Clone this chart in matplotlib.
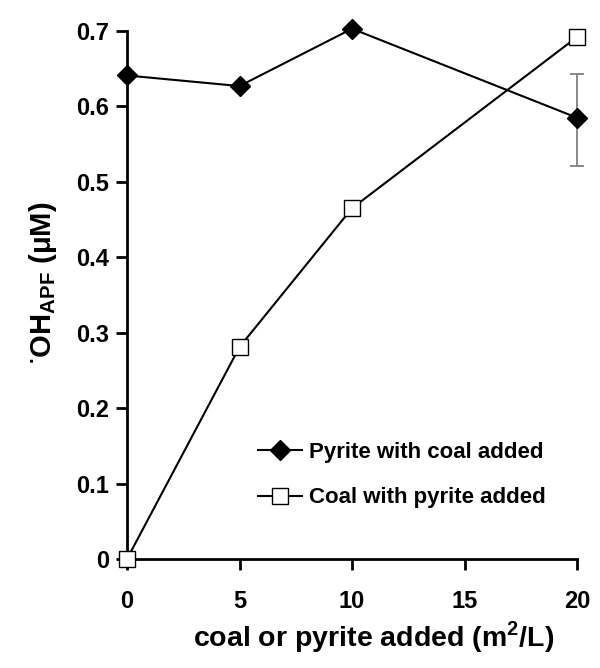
import matplotlib.pyplot as plt

plt.rcParams['font.family'] = 'Liberation Sans'
plt.rcParams['font.weight'] = 'bold'
plt.rcParams['mathtext.fontset'] = 'custom'
plt.rcParams['mathtext.rm'] = 'Liberation Sans:bold'
plt.rcParams['mathtext.bf'] = 'Liberation Sans:bold'

# data
x = [0, 5, 10, 20]
pyrite = [0.641, 0.627, 0.703, 0.585]
pyrite_err_x = [20]
pyrite_err_y = [0.585]
pyrite_err_lo = [0.064]
pyrite_err_hi = [0.058]
coal = [0.0, 0.281, 0.465, 0.692]

fig = plt.figure(figsize=(6, 6.68), dpi=100)
ax = fig.add_axes([0.2117, 0.1632, 0.75, 0.7904])

ax.errorbar(pyrite_err_x, pyrite_err_y, yerr=[pyrite_err_lo, pyrite_err_hi],
            fmt='none', ecolor='#808080', elinewidth=1.3, capsize=5, capthick=1.3,
            clip_on=False)
ax.plot(x, pyrite, color='black', lw=1.5, marker='D', ms=10, mfc='black', mec='black',
        label='Pyrite with coal added', clip_on=False, zorder=3)
ax.plot(x, coal, color='black', lw=1.5, marker='s', ms=11, mfc='white', mec='black',
        mew=1.0, label='Coal with pyrite added', clip_on=False, zorder=3)

ax.set_xlim(0, 20)
ax.set_ylim(0, 0.7)
ax.set_xticks([0, 5, 10, 15, 20])
ax.set_yticks([0, 0.1, 0.2, 0.3, 0.4, 0.5, 0.6, 0.7])
ax.set_yticklabels(['0', '0.1', '0.2', '0.3', '0.4', '0.5', '0.6', '0.7'])

for s in ['top', 'right']:
    ax.spines[s].set_visible(False)
for s in ['left', 'bottom']:
    ax.spines[s].set_linewidth(2)
ax.tick_params(direction='out', length=8, width=2, labelsize=17, pad=5)
ax.tick_params(axis='x', pad=14)

ax.set_xlabel('coal or pyrite added (m$^{2}$/L)', fontsize=20.5, fontweight='bold')
ax.xaxis.set_label_coords(0.547, -0.1135)
ax.set_ylabel(r'$^{\bullet}$OH$_{\mathrm{APF}}$ (μM)', fontsize=21, fontweight='bold')
ax.yaxis.set_label_coords(-0.152, 0.523)

ax.legend(loc='lower right', bbox_to_anchor=(0.975, 0.058), frameon=False, fontsize=16,
          handlelength=2.0, handletextpad=0.3, labelspacing=1.1)

fig.savefig('out.png', dpi=100)
